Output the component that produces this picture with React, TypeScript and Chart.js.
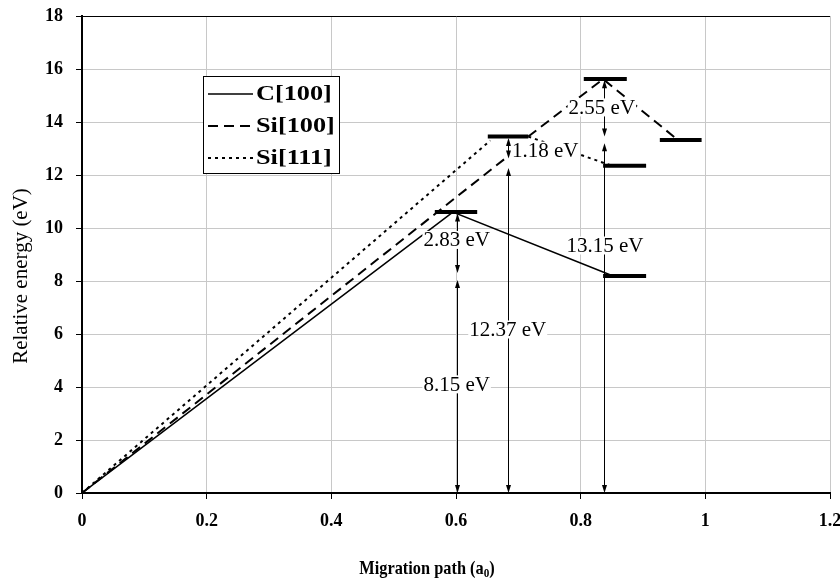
import React, { useEffect, useRef } from "react";
import { Chart, registerables } from "chart.js";
Chart.register(...registerables);

const seriesNames = ["C[100]", "Si[100]", "Si[111]"];

const c100X = [0, 0.595, 0.852];
const c100Y = [0, 10.6, 8.19];
const si100X = [0, 0.683, 0.7, 0.716, 0.836, 0.955];
const si100Y = [0, 12.7, null, 13.45, 15.62, 13.34];
const si111X = [0, 0.655, 0.7, 0.716, 0.85];
const si111Y = [0, 13.3, null, 13.45, 12.35];

const levelStart = [0.566, 0.651, 0.805, 0.836, 0.836, 0.927];
const levelEnd = [0.634, 0.716, 0.874, 0.905, 0.905, 0.994];
const levelEnergy = [10.6, 13.45, 15.62, 12.35, 8.19, 13.32];

const arrowX = [0.601, 0.601, 0.683, 0.683, 0.838, 0.838];
const arrowTop = [10.55, 8.04, 13.4, 12.26, 15.58, 13.2];
const arrowBottom = [8.3, 0, 12.62, 0, 13.45, 0];

const labelText = ["2.83 eV", "8.15 eV", "12.37 eV", "13.15 eV", "1.18 eV", "2.55 eV"];
const labelX = [0.601, 0.601, 0.683, 0.839, 0.743, 0.834];
const labelY = [9.55, 4.1, 6.17, 9.34, 12.92, 14.55];

const xTitle = "Migration path (a";
const xTitleSub = "0";
const yTitle = "Relative energy (eV)";

const SERIF = "'Liberation Serif', 'Times New Roman', serif";

function pts(xs: number[], ys: (number | null)[]) {
  return xs.map((x, i) => ({ x, y: ys[i] }));
}

function levelPts() {
  const out: { x: number; y: number | null }[] = [];
  levelStart.forEach((s, i) => {
    out.push({ x: s, y: levelEnergy[i] });
    out.push({ x: levelEnd[i], y: levelEnergy[i] });
    out.push({ x: levelEnd[i], y: null });
  });
  return out;
}

function head(ctx: CanvasRenderingContext2D, x: number, y: number, dir: number) {
  ctx.beginPath();
  ctx.moveTo(x, y);
  ctx.lineTo(x - 2.5, y - dir * 8);
  ctx.lineTo(x + 2.5, y - dir * 8);
  ctx.closePath();
  ctx.fill();
}

const decor = {
  id: "decor",
  afterDatasetsDraw(chart: any) {
    const ctx: CanvasRenderingContext2D = chart.ctx;
    const xs = chart.scales.x;
    const ys = chart.scales.y;
    ctx.save();
    ctx.strokeStyle = "#000";
    ctx.fillStyle = "#000";
    ctx.lineWidth = 1;
    arrowX.forEach((ax, i) => {
      const px = Math.round(xs.getPixelForValue(ax)) + 0.5;
      const y1 = ys.getPixelForValue(arrowTop[i]);
      const y2 = ys.getPixelForValue(arrowBottom[i]);
      ctx.beginPath();
      ctx.moveTo(px, y1 + 4);
      ctx.lineTo(px, y2 - 4);
      ctx.stroke();
      head(ctx, px, y1, -1);
      head(ctx, px, y2, 1);
    });
    ctx.font = `21px ${SERIF}`;
    ctx.textAlign = "center";
    ctx.textBaseline = "middle";
    labelText.forEach((t, i) => {
      const px = xs.getPixelForValue(labelX[i]);
      const py = ys.getPixelForValue(labelY[i]);
      const w = ctx.measureText(t).width;
      ctx.fillStyle = "#fff";
      ctx.fillRect(px - w / 2 - 1, py - 9, w + 2, 18);
      ctx.fillStyle = "#000";
      ctx.fillText(t, px, py + 1);
    });
    ctx.restore();
  },
  afterDraw(chart: any) {
    const ctx: CanvasRenderingContext2D = chart.ctx;
    const area = chart.chartArea;
    ctx.save();
    // legend
    const lx = area.left + 121;
    const ly = area.top + 60;
    ctx.fillStyle = "#fff";
    ctx.fillRect(lx, ly, 136, 97);
    ctx.strokeStyle = "#000";
    ctx.lineWidth = 1;
    ctx.strokeRect(lx + 0.5, ly + 0.5, 136, 97);
    ctx.font = `bold 21px ${SERIF}`;
    ctx.textAlign = "left";
    ctx.textBaseline = "middle";
    chart.data.datasets.slice(0, 3).forEach((ds: any, i: number) => {
      const y = ly + 18 + i * 32;
      ctx.setLineDash(ds.borderDash || []);
      ctx.lineWidth = ds.borderWidth;
      ctx.beginPath();
      ctx.moveTo(lx + 5, y);
      ctx.lineTo(lx + 50, y);
      ctx.stroke();
      ctx.setLineDash([]);
      ctx.fillStyle = "#000";
      ctx.save();
      ctx.translate(lx + 53, y + 1);
      ctx.scale(1.25, 1);
      ctx.fillText(ds.label, 0, 0);
      ctx.restore();
    });
    // x axis title (drawn with slight horizontal condensing)
    ctx.fillStyle = "#000";
    const sx = 0.86;
    ctx.font = `bold 19px ${SERIF}`;
    const mainW = ctx.measureText(xTitle).width;
    ctx.font = `bold 13px ${SERIF}`;
    const subW = ctx.measureText(xTitleSub).width;
    ctx.font = `bold 19px ${SERIF}`;
    const closeW = ctx.measureText(")").width;
    const total = (mainW + subW + closeW) * sx;
    ctx.save();
    ctx.translate(area.left + 345 - total / 2, area.bottom + 76);
    ctx.scale(sx, 1);
    ctx.textAlign = "left";
    let cx = 0;
    ctx.fillText(xTitle, cx, 0);
    cx += mainW;
    ctx.font = `bold 13px ${SERIF}`;
    ctx.fillText(xTitleSub, cx, 5);
    cx += subW;
    ctx.font = `bold 19px ${SERIF}`;
    ctx.fillText(")", cx, 0);
    ctx.restore();
    // y axis title
    ctx.font = `21px ${SERIF}`;
    ctx.translate(21, area.top + 260);
    ctx.rotate(-Math.PI / 2);
    ctx.textAlign = "center";
    ctx.fillText(yTitle, 0, 0);
    ctx.restore();
  },
};

export default function App() {
  const ref = useRef<HTMLCanvasElement>(null);
  useEffect(() => {
    if (!ref.current) return;
    const tickFont = { family: SERIF, size: 18, weight: "bold" as const };
    const chart = new Chart(ref.current, {
      type: "scatter",
      data: {
        datasets: [
          {
            label: seriesNames[0],
            data: pts(c100X, c100Y),
            showLine: true,
            borderColor: "#000",
            borderWidth: 1.5,
            pointRadius: 0,
          },
          {
            label: seriesNames[1],
            data: pts(si100X, si100Y),
            showLine: true,
            borderColor: "#000",
            borderWidth: 2,
            borderDash: [10, 6],
            pointRadius: 0,
          },
          {
            label: seriesNames[2],
            data: pts(si111X, si111Y),
            showLine: true,
            borderColor: "#000",
            borderWidth: 2,
            borderDash: [3, 4],
            pointRadius: 0,
          },
          {
            label: "levels",
            data: levelPts(),
            showLine: true,
            borderColor: "#000",
            borderWidth: 4,
            borderCapStyle: "butt",
            pointRadius: 0,
            spanGaps: false,
          },
        ],
      },
      options: {
        responsive: false,
        animation: false,
        layout: { padding: { top: 16, right: 10, left: 0, bottom: 0 } },
        plugins: { legend: { display: false }, tooltip: { enabled: false } },
        scales: {
          x: {
            type: "linear",
            min: 0,
            max: 1.2,
            afterFit: (s: any) => {
              s.height = 88;
              s.paddingRight = 10;
            },
            ticks: {
              stepSize: 0.2,
              color: "#000",
              font: tickFont,
              padding: 12,
              maxRotation: 0,
              callback: (v: any) => String(Math.round(Number(v) * 10) / 10),
            },
            grid: { color: "#c8c8c8", lineWidth: 1, tickColor: "#000", tickLength: 6 },
            border: { color: "#000", width: 2 },
          },
          y: {
            min: 0,
            max: 18,
            afterFit: (s: any) => {
              s.width = 82;
              s.paddingTop = 0;
            },
            ticks: { stepSize: 2, color: "#000", font: tickFont, padding: 13 },
            grid: {
              color: (c: any) => (c.tick && c.tick.value === 18 ? "#000" : "#c8c8c8"),
              lineWidth: 1,
              tickColor: "#000",
              tickLength: 6,
            },
            border: { color: "#000", width: 2 },
          },
        },
      },
      plugins: [decor],
    });
    return () => chart.destroy();
  }, []);
  return (
    <div style={{ position: "absolute", left: 0, top: 0, width: 840, height: 581, background: "#fff" }}>
      <canvas ref={ref} width={840} height={581} />
    </div>
  );
}
